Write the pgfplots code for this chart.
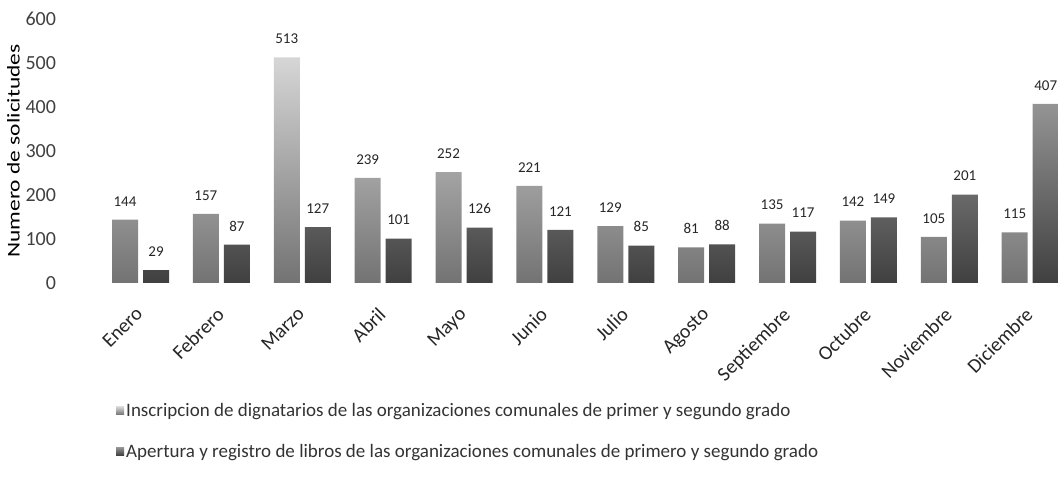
\documentclass[border=0pt]{standalone}
\usepackage{fontspec}
\setmainfont{Carlito}
\usepackage{pgfplots}
\pgfplotsset{compat=1.18}
\definecolor{sA}{gray}{0.84}
\definecolor{sAb}{gray}{0.45}
\definecolor{sB}{gray}{0.58}
\definecolor{sBb}{gray}{0.25}
\begin{document}
\begin{tikzpicture}[x=1pt,y=1pt]
\begin{axis}[
  at={(102.5pt,198pt)}, anchor=south west,
  scale only axis, width=956pt, height=264pt,
  ybar=5pt, bar width=26pt,
  xmin=-0.47, xmax=11.35, ymin=0, ymax=600,
  ytick={0,100,...,600},
  xtick={0,...,11},
  xticklabels={Enero,Febrero,Marzo,Abril,Mayo,Junio,Julio,Agosto,Septiembre,Octubre,Noviembre,Diciembre},
  xticklabel style={font=\fontsize{20}{20}\selectfont, text=black!85, xshift=-6pt, yshift=-14pt, rotate=45, anchor=north east},
  yticklabel style={font=\fontsize{20}{20}\selectfont, xshift=-43pt, text=black!75},
  /pgf/number format/assume math mode=true,
  axis line style={draw=none}, tick style={draw=none},
  ylabel={\scalebox{1.3}[1]{Numero de solicitudes}},
  ylabel style={font=\fontsize{18}{18}\selectfont, yshift=-1pt},
  nodes near coords,
  every node near coord/.append style={font=\fontsize{15}{15}\selectfont, yshift=10pt, text=black!85},
  legend style={at={(0.011,-0.44)}, anchor=north west, draw=none, fill=none,
    font=\fontsize{19}{19}\selectfont, row sep=22pt, legend cell align=left,
    text=black!80,
    /tikz/every even column/.append style={column sep=4pt}},
  legend image code/.code={\fill[#1] (0pt,-4pt) rectangle (8pt,4pt);},
  legend cell align=left,
]
\addplot[draw=none, top color=sA, bottom color=sAb] coordinates {(0,144) (1,157) (2,513) (3,239) (4,252) (5,221) (6,129) (7,81) (8,135) (9,142) (10,105) (11,115)};
\addplot[draw=none, top color=sB, bottom color=sBb] coordinates {(0,29) (1,87) (2,127) (3,101) (4,126) (5,121) (6,85) (7,88) (8,117) (9,149) (10,201) (11,407)};
\legend{Inscripcion de dignatarios de las organizaciones comunales de primer y segundo grado,Apertura y registro de libros de las organizaciones comunales de primero y segundo grado}
\end{axis}
\pgfresetboundingbox
\useasboundingbox (0,0) rectangle (1060,481);
\end{tikzpicture}
\end{document}
